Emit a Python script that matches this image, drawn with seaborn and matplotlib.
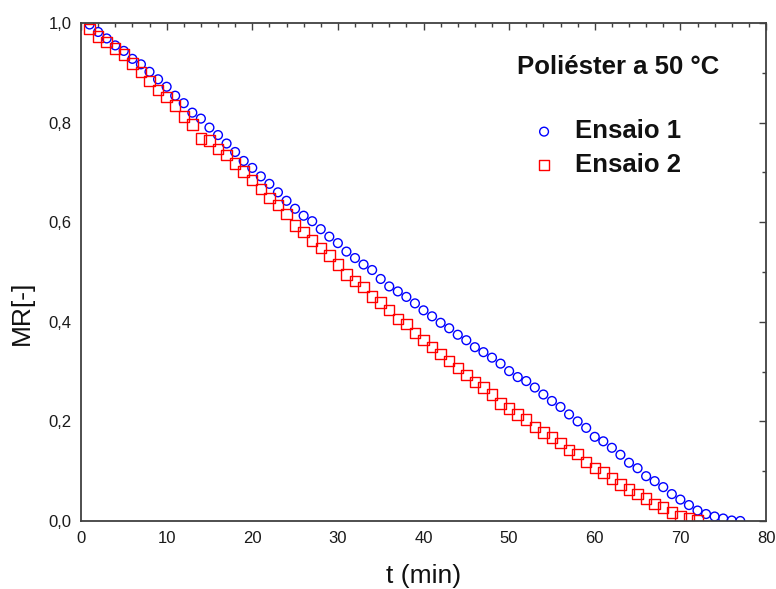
import numpy as np
import pandas as pd
import matplotlib
matplotlib.use("Agg")
import matplotlib.pyplot as plt
from matplotlib.ticker import MultipleLocator, FuncFormatter
import seaborn as sns

# Drying kinetics of polyester at 50 °C: moisture ratio vs time
t_ensaio1 = list(range(1, 78))
mr_ensaio1 = [
    0.997, 0.982, 0.969, 0.955, 0.944, 0.928, 0.917, 0.902, 0.887, 0.872,
    0.854, 0.839, 0.820, 0.808, 0.790, 0.775, 0.758, 0.741, 0.723, 0.709,
    0.692, 0.677, 0.660, 0.643, 0.627, 0.613, 0.602, 0.586, 0.571, 0.558,
    0.541, 0.528, 0.515, 0.504, 0.486, 0.471, 0.461, 0.450, 0.437, 0.423,
    0.411, 0.398, 0.387, 0.374, 0.363, 0.349, 0.339, 0.328, 0.316, 0.301,
    0.289, 0.281, 0.268, 0.254, 0.241, 0.229, 0.214, 0.200, 0.187, 0.169,
    0.160, 0.147, 0.133, 0.117, 0.106, 0.090, 0.080, 0.068, 0.054, 0.043,
    0.032, 0.021, 0.014, 0.009, 0.005, 0.001, 0.000,
]

t_ensaio2 = list(range(1, 73))
mr_ensaio2 = [
    0.988, 0.973, 0.962, 0.949, 0.937, 0.919, 0.902, 0.884, 0.866, 0.852,
    0.834, 0.812, 0.796, 0.768, 0.764, 0.747, 0.735, 0.718, 0.702, 0.685,
    0.667, 0.649, 0.635, 0.617, 0.593, 0.580, 0.563, 0.548, 0.533, 0.515,
    0.495, 0.482, 0.470, 0.451, 0.439, 0.424, 0.406, 0.396, 0.377, 0.364,
    0.349, 0.335, 0.321, 0.307, 0.293, 0.279, 0.268, 0.254, 0.236, 0.226,
    0.214, 0.204, 0.189, 0.178, 0.168, 0.157, 0.142, 0.134, 0.118, 0.107,
    0.097, 0.085, 0.073, 0.063, 0.054, 0.045, 0.034, 0.027, 0.017, 0.009,
    0.005, 0.001,
]

series_names = ["Ensaio 1", "Ensaio 2"]
title_text = "Poliéster a 50 °C"
x_label = "t (min)"
y_label = "MR[-]"

sns.set_style("white")
plt.rcParams["font.family"] = ["Liberation Sans", "DejaVu Sans"]

df1 = pd.DataFrame({"t": t_ensaio1, "MR": mr_ensaio1})
df2 = pd.DataFrame({"t": t_ensaio2, "MR": mr_ensaio2})

fig = plt.figure(figsize=(7.76, 5.89), dpi=100)
ax = fig.add_axes([81 / 776, 1 - 521 / 589, (766 - 81) / 776, (521 - 23) / 589])

sns.scatterplot(data=df1, x="t", y="MR", ax=ax, marker="o", s=40,
                facecolor="none", edgecolor="#0000ff", linewidth=1.0,
                label=series_names[0])
sns.scatterplot(data=df2, x="t", y="MR", ax=ax, marker="s", s=56,
                facecolor="none", edgecolor="#ff0000", linewidth=1.0,
                label=series_names[1])

ax.set_xlim(0, 80)
ax.set_ylim(0, 1.0)
ax.xaxis.set_major_locator(MultipleLocator(10))
ax.xaxis.set_minor_locator(MultipleLocator(2))
ax.yaxis.set_major_locator(MultipleLocator(0.2))
ax.yaxis.set_minor_locator(MultipleLocator(0.1))
ax.yaxis.set_major_formatter(FuncFormatter(lambda v, p: f"{v:.1f}".replace(".", ",")))
ax.xaxis.set_major_formatter(FuncFormatter(lambda v, p: f"{v:.0f}"))

frame_color = "#404040"
for sp in ax.spines.values():
    sp.set_visible(True)
    sp.set_color(frame_color)
    sp.set_linewidth(1.3)

ax.tick_params(which="both", direction="in", top=True, right=True,
               color=frame_color, labelsize=12, labelcolor="#1a1a1a")
ax.tick_params(which="major", length=5, width=1.0, pad=7)
ax.tick_params(which="minor", length=3, width=1.0)

ax.set_xlabel(x_label, fontsize=19, color="#111111")
ax.set_ylabel(y_label, fontsize=19, color="#111111")
ax.xaxis.set_label_coords(0.5, -0.086)
ax.yaxis.set_label_coords(-0.0686, 0.418)

ax.text((517 - 81) / 685, (521 - 67) / 498, title_text, transform=ax.transAxes,
        ha="left", va="center", fontsize=18.5, fontweight="bold", color="#111111")

leg = ax.legend(loc="center left", bbox_to_anchor=(0.661, 0.749),
                frameon=False, borderaxespad=0, borderpad=0,
                handlelength=0.8, handletextpad=0.8, labelspacing=0.36,
                prop={"size": 18.5, "weight": "bold"})
for txt in leg.get_texts():
    txt.set_color("#111111")

fig.savefig("out.png", dpi=100)
